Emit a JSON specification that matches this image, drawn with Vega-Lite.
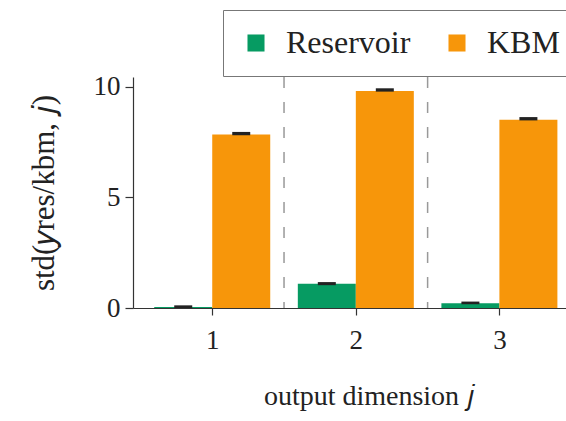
{
  "$schema": "https://vega.github.io/schema/vega-lite/v6.json",
  "autosize": "none",
  "width": 433,
  "height": 231,
  "padding": {"left": 133, "top": 77, "right": 0, "bottom": 113},
  "background": "white",
  "config": {
    "view": {"stroke": null},
    "font": "Liberation Serif",
    "axis": {
      "labelFont": "Liberation Serif",
      "titleFont": "Liberation Serif",
      "labelFontSize": 27,
      "titleFontSize": 28,
      "titleFontWeight": "normal",
      "labelColor": "#222",
      "titleColor": "#222",
      "domainColor": "#333",
      "tickColor": "#333",
      "domainWidth": 1.2,
      "tickWidth": 1.2,
      "grid": false
    }
  },
  "data": {
    "values": [
      {"j": 1, "series": "Reservoir", "value": 0.04, "lo": 0.0, "hi": 0.12},
      {"j": 2, "series": "Reservoir", "value": 1.09, "lo": 1.03, "hi": 1.17},
      {"j": 3, "series": "Reservoir", "value": 0.22, "lo": 0.17, "hi": 0.29},
      {"j": 1, "series": "KBM", "value": 7.83, "lo": 7.8, "hi": 7.95},
      {"j": 2, "series": "KBM", "value": 9.8, "lo": 9.77, "hi": 9.92},
      {"j": 3, "series": "KBM", "value": 8.5, "lo": 8.47, "hi": 8.62}
    ]
  },
  "layer": [
    {
      "data": {"values": [{"sep": 1.5}, {"sep": 2.5}]},
      "mark": {"type": "rule", "color": "#999", "strokeWidth": 1.5, "strokeDash": [11, 14]},
      "encoding": {
        "x": {"field": "sep", "type": "quantitative", "scale": {"domain": [0.483, 3.429], "nice": false, "zero": false}}
      }
    },
    {
      "transform": [{"filter": "datum.series === 'Reservoir'"}],
      "mark": {"type": "bar", "width": 58, "xOffset": -29},
      "encoding": {
        "x": {"field": "j", "type": "quantitative", "scale": {"domain": [0.483, 3.429], "nice": false, "zero": false},
          "axis": {"values": [1, 2, 3], "format": "d", "tickSize": 7, "labelPadding": 12,
            "labelFont": "Liberation Serif", "titleFont": "Liberation Serif",
            "title": "output dimension 𝑗", "titlePadding": 29, "titleX": 236, "titleAnchor": "start", "titleAlign": "center"}},
        "y": {"field": "value", "type": "quantitative", "scale": {"domain": [0, 10.43], "nice": false},
          "axis": {"values": [0, 5, 10], "tickSize": 8, "labelPadding": 5,
            "labelFont": "Liberation Serif", "titleFont": "Liberation Serif",
            "title": "std(𝑦res/kbm, 𝑗)", "titlePadding": 33, "titleFontSize": 31}},
        "color": {"field": "series", "type": "nominal",
          "scale": {"domain": ["Reservoir", "KBM"], "range": ["#069b62", "#f7960a"]},
          "legend": {
            "title": null, "orient": "none", "legendX": 90, "legendY": -67, "direction": "horizontal",
            "symbolType": "square", "symbolSize": 290, "symbolStrokeWidth": 0, "symbolOpacity": 1,
            "labelFont": "Liberation Serif", "labelFontSize": 32, "labelColor": "#222", "labelOffset": 14,
            "columnPadding": 30, "padding": 17, "strokeColor": "#777", "fillColor": "white", "cornerRadius": 0
          }}
      }
    },
    {
      "transform": [{"filter": "datum.series === 'KBM'"}],
      "mark": {"type": "bar", "width": 58, "xOffset": 29},
      "encoding": {
        "x": {"field": "j", "type": "quantitative"},
        "y": {"field": "value", "type": "quantitative"},
        "color": {"field": "series", "type": "nominal"}
      }
    },
    {
      "transform": [{"filter": "datum.series === 'Reservoir'"}],
      "mark": {"type": "bar", "width": 18, "xOffset": -29, "color": "#222"},
      "encoding": {
        "x": {"field": "j", "type": "quantitative"},
        "y": {"field": "lo", "type": "quantitative"},
        "y2": {"field": "hi"}
      }
    },
    {
      "transform": [{"filter": "datum.series === 'KBM'"}],
      "mark": {"type": "bar", "width": 18, "xOffset": 29, "color": "#222"},
      "encoding": {
        "x": {"field": "j", "type": "quantitative"},
        "y": {"field": "lo", "type": "quantitative"},
        "y2": {"field": "hi"}
      }
    }
  ]
}
